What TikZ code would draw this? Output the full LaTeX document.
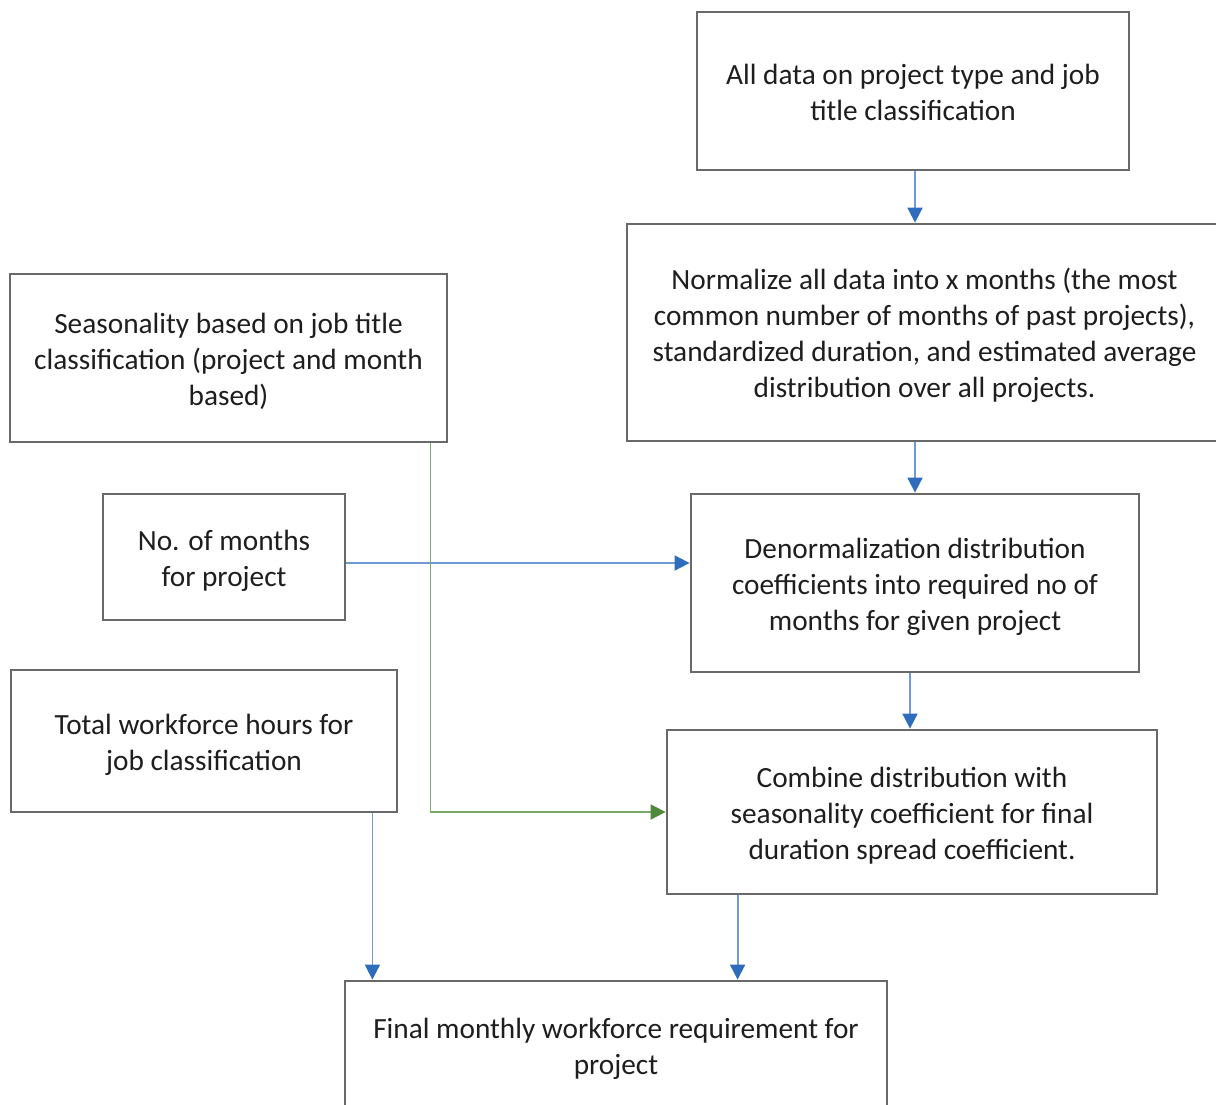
\documentclass[tikz,border=0pt]{standalone}
\usepackage{fontspec}
\setmainfont{Carlito}
\usetikzlibrary{arrows.meta}
\definecolor{boxgray}{RGB}{105,105,105}
\definecolor{bline}{RGB}{110,155,212}
\definecolor{bhead}{RGB}{46,108,188}
\definecolor{gline}{RGB}{122,168,106}
\definecolor{ghead}{RGB}{78,138,58}
\definecolor{txt}{RGB}{30,30,30}
\newcommand\topstrut{\rule{0pt}{33.2pt}}
\newcommand\botstrut{\rule[-10.8pt]{0pt}{10.8pt}}
\tikzset{
  flowbox/.style={draw=boxgray, line width=2.8pt, fill=white, align=center, inner sep=0pt,
    text=txt, font=\fontsize{29.3}{36}\selectfont},
  bluearrow/.style={draw=bline, line width=1.8pt,
    -{Triangle[length=15pt,width=15pt,color=bhead]}},
  greenarrow/.style={draw=gline, line width=1.8pt,
    -{Triangle[length=15pt,width=15pt,color=ghead]}},
}
\begin{document}
\begin{tikzpicture}[x=1pt,y=-1pt]
\useasboundingbox (0,0) rectangle (1216,1104);
\begin{scope}
\clip (0,0) rectangle (1216,1104);
\node[flowbox, minimum width=432pt, minimum height=158pt] (A) at (913,91)
  {\topstrut All data on project type and job\\title classification\botstrut};
\node[flowbox, minimum width=595pt, minimum height=217pt] (B) at (924.5,332.5)
  {\topstrut Normalize all data into x months (the most\\common number of months of past projects),\\standardized duration, and estimated average\\distribution over all projects.\botstrut};
\node[flowbox, minimum width=437pt, minimum height=168pt] (C) at (228.5,358)
  {\topstrut Seasonality based on job title\\classification (project and month\\based)\botstrut};
\node[flowbox, minimum width=242pt, minimum height=126pt] (D) at (224,557)
  {\topstrut No. of months\\for project\botstrut};
\node[flowbox, minimum width=448pt, minimum height=178pt] (E) at (915,583)
  {\topstrut Denormalization distribution\\coefficients into required no of\\months for given project\botstrut};
\node[flowbox, minimum width=386pt, minimum height=142pt] (F) at (204,741)
  {\topstrut Total workforce hours for\\job classification\botstrut};
\node[flowbox, minimum width=490pt, minimum height=164pt] (G) at (912,812)
  {\topstrut Combine distribution with\\seasonality coefficient for final\\duration spread coefficient.\botstrut};
\node[flowbox, minimum width=542pt, minimum height=128pt] (H) at (616,1045)
  {\topstrut Final monthly workforce requirement for\\project\botstrut};

\draw[bluearrow] ([xshift=2pt]A.south) -- ([xshift=2pt]A.south |- B.north);
\draw[bluearrow] (E.north |- B.south) -- (E.north);
\draw[bluearrow] ([xshift=-5pt]E.south) -- ([xshift=-5pt]E.south |- G.north);
\draw[bluearrow] ([yshift=-6pt]D.east) -- ([yshift=-6pt]D.east -| E.west);
\draw[greenarrow] ([xshift=-18pt]C.south east) |- (G.west);
\draw[bluearrow] ([xshift=-26pt]F.south east) -- ([xshift=-26pt]F.south east |- H.north);
\draw[bluearrow] ([xshift=72pt]G.south west) -- ([xshift=72pt]G.south west |- H.north);
\end{scope}
\end{tikzpicture}
\end{document}
